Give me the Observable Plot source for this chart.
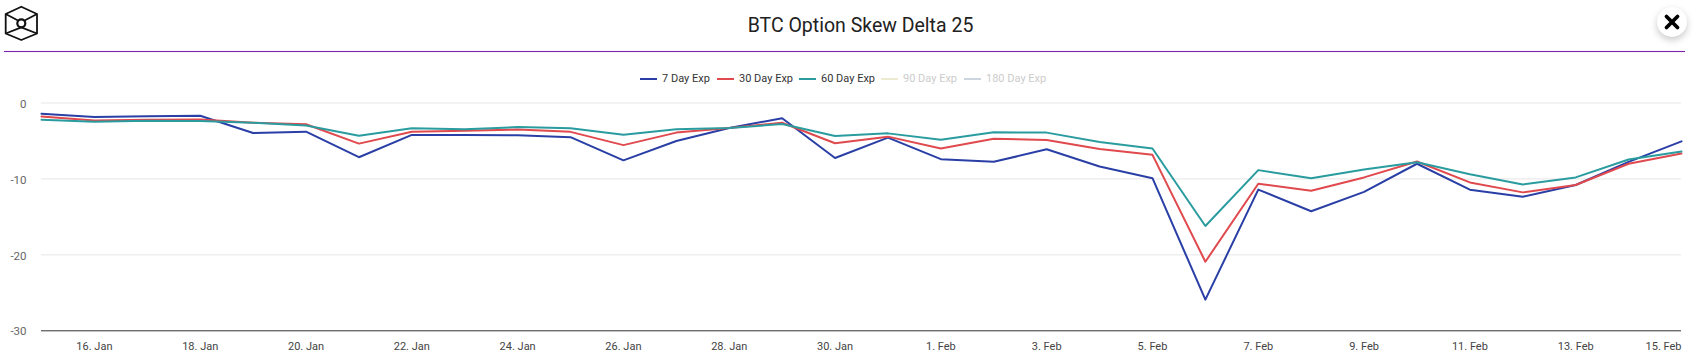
<!DOCTYPE html>
<html>
<head>
<meta charset="utf-8">
<script src="https://cdn.jsdelivr.net/npm/d3@7"></script>
<script src="https://cdn.jsdelivr.net/npm/@observablehq/plot@0.6"></script>
<style>
html,body{margin:0;padding:0;background:#fff;overflow:hidden;font-family:Roboto,sans-serif}
#page{position:relative;width:1703px;height:357px}
#title{position:absolute;left:0;top:13px;width:1721px;text-align:center;font-size:19.5px;line-height:26px;color:#212121}
#rule{position:absolute;left:4px;top:51px;width:1681px;height:1px;background:#7a25a8;box-shadow:0 0 1px rgba(190,90,220,.7)}
#logo{position:absolute;left:3px;top:4px}
#close{position:absolute;left:1657px;top:7px;width:30px;height:30px;border-radius:50%;background:#fff;box-shadow:0 3px 7px rgba(0,0,0,.22)}
#legend{position:absolute;left:0;top:72px;height:14px;font-size:11px;line-height:14px}
.item{position:absolute;top:0;white-space:nowrap;color:#333}
.item i{position:absolute;left:0;top:6px;width:17px;height:2px}
.item span{position:absolute;left:22px;top:0}
.off{color:#cccccc}
#chart{position:absolute;left:0;top:92px}
#chart svg{display:block}
</style>
</head>
<body>
<div id="page">
  <div id="title">BTC Option Skew Delta 25</div>
  <div id="rule"></div>
  <svg id="logo" width="38" height="40" viewBox="3 4 38 40" fill="none" stroke="#111" stroke-width="1.8" stroke-linejoin="round">
    <path d="M21.3 6.7L37 14V33.5L21.3 40L5.7 33.5V14Z"/>
    <circle cx="21.3" cy="23.3" r="4" stroke-width="2.2"/>
    <path d="M5.7 14L18 20.5M37 14L24.6 20.5M5.7 33.5L21.3 27.3L37 33.5"/>
  </svg>
  <div id="close">
    <svg width="30" height="30" viewBox="0 0 30 30"><path d="M9.5 9.5L20.5 20.5M20.5 9.5L9.5 20.5" stroke="#000" stroke-width="3.8" stroke-linecap="round"/></svg>
  </div>
  <div id="legend"></div>
  <div id="chart"></div>
</div>
<script>
const days = ["2021-01-15","2021-01-16","2021-01-17","2021-01-18","2021-01-19","2021-01-20","2021-01-21","2021-01-22","2021-01-23","2021-01-24","2021-01-25","2021-01-26","2021-01-27","2021-01-28","2021-01-29","2021-01-30","2021-01-31","2021-02-01","2021-02-02","2021-02-03","2021-02-04","2021-02-05","2021-02-06","2021-02-07","2021-02-08","2021-02-09","2021-02-10","2021-02-11","2021-02-12","2021-02-13","2021-02-14","2021-02-15"];
const exp7 = [-1.4,-1.85,-1.75,-1.68,-3.95,-3.78,-7.14,-4.2,-4.2,-4.25,-4.5,-7.55,-5.0,-3.3,-2.0,-7.25,-4.56,-7.4,-7.75,-6.1,-8.36,-9.9,-25.9,-11.4,-14.26,-11.7,-8.0,-11.42,-12.34,-10.8,-7.75,-5.05];
const exp30 = [-1.77,-2.3,-2.2,-2.16,-2.6,-2.8,-5.35,-3.78,-3.65,-3.5,-3.8,-5.55,-3.9,-3.3,-2.6,-5.3,-4.43,-6.0,-4.7,-4.87,-6.05,-6.83,-20.9,-10.63,-11.55,-9.8,-7.7,-10.46,-11.77,-10.8,-8.0,-6.66];
const exp60 = [-2.2,-2.47,-2.33,-2.38,-2.6,-2.95,-4.3,-3.34,-3.47,-3.17,-3.34,-4.17,-3.47,-3.3,-2.77,-4.35,-4.0,-4.83,-3.86,-3.9,-5.13,-6.0,-16.2,-8.84,-9.9,-8.76,-7.8,-9.37,-10.72,-9.8,-7.45,-6.4];
const xTicks = ["2021-01-16","2021-01-18","2021-01-20","2021-01-22","2021-01-24","2021-01-26","2021-01-28","2021-01-30","2021-02-01","2021-02-03","2021-02-05","2021-02-07","2021-02-09","2021-02-11","2021-02-13"];
const lastTick = ["2021-02-15"];
const yTicks = [0,-10,-20,-30];
const gridValues = [0,-10,-20];
const seriesNames = ["7 Day Exp","30 Day Exp","60 Day Exp","90 Day Exp","180 Day Exp"];
const seriesColors = ["#2a3fa6","#e0494d","#2a9c9f","#ecebd2","#cdd5de"];
const legendLeft = [640,717,799,881,964];

const toDate = d3.utcParse("%Y-%m-%d");
const dates = days.map(toDate);
const fmt = d3.utcFormat("%-d. %b");
const table = values => values.map((v,i)=>({date:dates[i],value:v}));

const legend = document.getElementById("legend");
seriesNames.forEach((name,i)=>{
  const el = document.createElement("div");
  el.className = "item" + (i>2 ? " off" : "");
  el.style.left = legendLeft[i] + "px";
  const swatch = document.createElement("i");
  swatch.style.background = seriesColors[i];
  const label = document.createElement("span");
  label.textContent = name;
  el.append(swatch,label);
  legend.append(el);
});

const lineOpts = (stroke)=>({x:"date",y:"value",stroke,strokeWidth:2,curve:"linear"});
const chart = Plot.plot({
  width:1703,
  height:265,
  marginTop:10.5,
  marginBottom:26.7,
  marginLeft:41,
  marginRight:22,
  style:{fontFamily:"Roboto, sans-serif",background:"#fff",overflow:"visible"},
  x:{type:"utc",domain:[dates[0],dates[dates.length-1]]},
  y:{domain:[-30,0]},
  marks:[
    Plot.ruleY(gridValues,{stroke:"#e6e6e6",strokeWidth:1}),
    Plot.ruleY([-30],{stroke:"#333",strokeWidth:1}),
    Plot.axisY({ticks:yTicks,tickSize:0,tickPadding:15,dy:1,label:null,fontSize:11.5,color:"#666",tickFormat:d=>String(d)}),
    Plot.axisX({ticks:xTicks.map(toDate),tickFormat:fmt,tickSize:0,tickPadding:11,label:null,fontSize:11,color:"#444"}),
    Plot.axisX({ticks:lastTick.map(toDate),tickFormat:fmt,tickSize:0,tickPadding:11,label:null,fontSize:11,color:"#444",textAnchor:"end"}),
    Plot.line(table(exp7),lineOpts(seriesColors[0])),
    Plot.line(table(exp30),lineOpts(seriesColors[1])),
    Plot.line(table(exp60),lineOpts(seriesColors[2]))
  ]
});
document.getElementById("chart").append(chart);
</script>
</body>
</html>
